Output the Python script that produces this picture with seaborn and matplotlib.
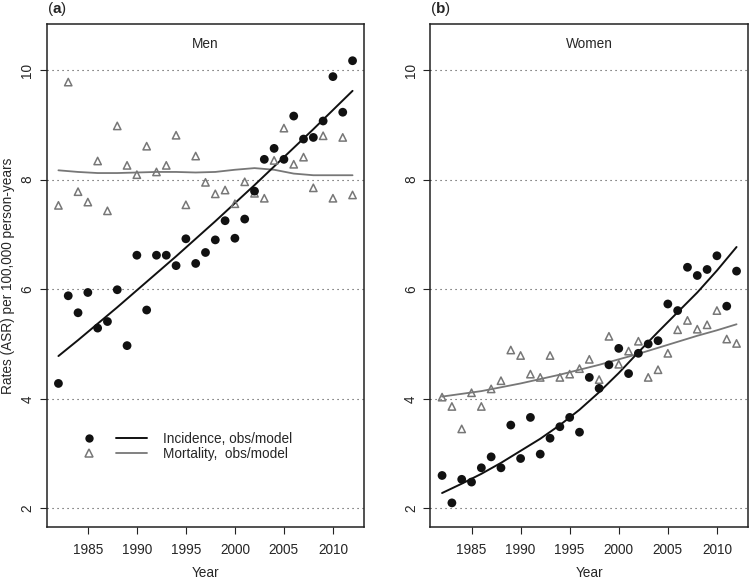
import matplotlib
matplotlib.use("Agg")
import matplotlib.pyplot as plt
from matplotlib.lines import Line2D
import seaborn as sns
import pandas as pd


years = list(range(1982, 2013))

men_inc = [4.28, 5.88, 5.57, 5.94, 5.29, 5.41, 5.99, 4.97, 6.62, 5.62,
           6.62, 6.62, 6.43, 6.92, 6.47, 6.67, 6.90, 7.25, 6.93, 7.28,
           7.79, 8.37, 8.57, 8.37, 9.16, 8.74, 8.77, 9.07, 9.88, 9.23, 10.17]
men_mort = [7.53, 9.78, 7.78, 7.59, 8.34, 7.43, 8.98, 8.26, 8.09, 8.61,
            8.14, 8.26, 8.81, 7.54, 8.43, 7.95, 7.74, 7.81, 7.56, 7.96,
            7.75, 7.66, 8.35, 8.94, 8.28, 8.41, 7.85, 8.80, 7.66, 8.77, 7.72]

women_inc = [2.60, 2.10, 2.53, 2.48, 2.74, 2.94, 2.74, 3.52, 2.91, 3.66,
             2.99, 3.28, 3.49, 3.66, 3.39, 4.39, 4.19, 4.62, 4.92, 4.46,
             4.83, 5.00, 5.06, 5.73, 5.61, 6.40, 6.25, 6.36, 6.61, 5.69, 6.33]
women_mort = [4.03, 3.86, 3.45, 4.11, 3.86, 4.18, 4.33, 4.89, 4.79, 4.45,
              4.39, 4.79, 4.39, 4.45, 4.55, 4.72, 4.35, 5.14, 4.63, 4.87,
              5.05, 4.39, 4.53, 4.83, 5.26, 5.43, 5.27, 5.35, 5.61, 5.09, 5.01]

# Model curves
model_years = [1982, 1984, 1986, 1988, 1990, 1992, 1994, 1996,
               1998, 2000, 2002, 2004, 2006, 2008, 2010, 2012]
men_inc_model = [4.78, 5.07, 5.37, 5.67, 5.98, 6.29, 6.60, 6.92,
                 7.24, 7.57, 7.90, 8.24, 8.58, 8.92, 9.27, 9.62]
men_mort_model = [8.17, 8.14, 8.12, 8.12, 8.13, 8.14, 8.14, 8.13,
                  8.14, 8.18, 8.21, 8.18, 8.11, 8.08, 8.08, 8.08]
women_inc_model = [2.28, 2.45, 2.63, 2.83, 3.05, 3.27, 3.52, 3.80,
                   4.12, 4.47, 4.85, 5.22, 5.58, 5.94, 6.34, 6.77]
women_mort_model = [4.04, 4.09, 4.14, 4.21, 4.28, 4.36, 4.44, 4.53,
                    4.62, 4.72, 4.82, 4.93, 5.04, 5.15, 5.25, 5.36]

y_ticks = [2, 4, 6, 8, 10]
x_ticks = [1985, 1990, 1995, 2000, 2005, 2010]

sns.set_style("white")
plt.rcParams['font.family'] = ['Liberation Sans', 'DejaVu Sans']
plt.rcParams['font.size'] = 9.8
plt.rcParams['mathtext.fontset'] = 'custom'
plt.rcParams['mathtext.rm'] = 'Liberation Sans'
plt.rcParams['mathtext.bf'] = 'Liberation Sans:bold'

INC = '#111111'
MORT = '#777777'

fig = plt.figure(figsize=(7.49, 5.80), dpi=100)
ax_m = fig.add_axes([0.0623, 0.0914, 0.4241, 0.8672])
ax_w = fig.add_axes([0.5745, 0.0914, 0.4246, 0.8672])


def draw_panel(ax, inc, mort, inc_model, mort_model, title, tag):
    for y in y_ticks:
        ax.axhline(y, color='#444444', lw=0.8, ls=(0, (1, 3.5)), zorder=0)
    obs = pd.DataFrame({'Year': years, 'inc': inc, 'mort': mort})
    mod = pd.DataFrame({'Year': model_years, 'inc': inc_model, 'mort': mort_model})
    sns.lineplot(data=mod, x='Year', y='mort', ax=ax, color=MORT, lw=1.3)
    sns.lineplot(data=mod, x='Year', y='inc', ax=ax, color=INC, lw=1.4)
    sns.scatterplot(data=obs, x='Year', y='mort', ax=ax, marker='^', s=28,
                    facecolor='none', edgecolor=MORT, linewidth=1.1, zorder=3)
    sns.scatterplot(data=obs, x='Year', y='inc', ax=ax, marker='o', s=40,
                    color=INC, edgecolor='none', zorder=4)
    ax.set_xlim(1980.8, 2013.2)
    ax.set_ylim(1.66, 10.84)
    ax.set_xticks(x_ticks)
    ax.set_yticks(y_ticks)
    ax.tick_params(axis='both', direction='out', length=4.8, width=0.8,
                   color='#222222', left=True, bottom=True)
    ax.tick_params(axis='x', pad=7)
    ax.tick_params(axis='y', pad=4, labelrotation=90)
    for lab in ax.get_yticklabels():
        lab.set_va('center')
    for sp in ax.spines.values():
        sp.set_color('#222222')
        sp.set_linewidth(1.1)
    ax.set_xlabel('Year', va='center')
    ax.xaxis.set_label_coords(0.5, -0.092)
    ax.set_ylabel('')
    ax.text(0.5, 0.960, title, transform=ax.transAxes, ha='center', va='center')
    ax.text(0.0, 1.030, r'($\mathbf{%s}$)' % tag, transform=ax.transAxes,
            ha='left', va='center', fontsize=11)


draw_panel(ax_m, men_inc, men_mort, men_inc_model, men_mort_model, 'Men', 'a')
draw_panel(ax_w, women_inc, women_mort, women_inc_model, women_mort_model, 'Women', 'b')

ax_m.set_ylabel('Rates (ASR) per 100,000 person-years', va='center')
ax_m.yaxis.set_label_coords(-0.122, 0.5)

# legend: marker column, then line column with text
handles = [
    Line2D([], [], ls='none', marker='o', ms=6, color=INC, mec='none'),
    Line2D([], [], ls='none', marker='^', ms=5.3, mfc='none', mec=MORT, mew=1.1),
    Line2D([], [], color=INC, lw=1.4),
    Line2D([], [], color=MORT, lw=1.3),
]
labels = ['', '', 'Incidence, obs/model', 'Mortality,  obs/model']
ax_m.legend(handles, labels, ncol=2, frameon=False, loc='center left',
            bbox_to_anchor=(0.084, 0.160), borderpad=0, borderaxespad=0,
            handlelength=2.3, handletextpad=1.2, columnspacing=-0.4,
            labelspacing=0.1)

fig.savefig('out.png', dpi=100)
